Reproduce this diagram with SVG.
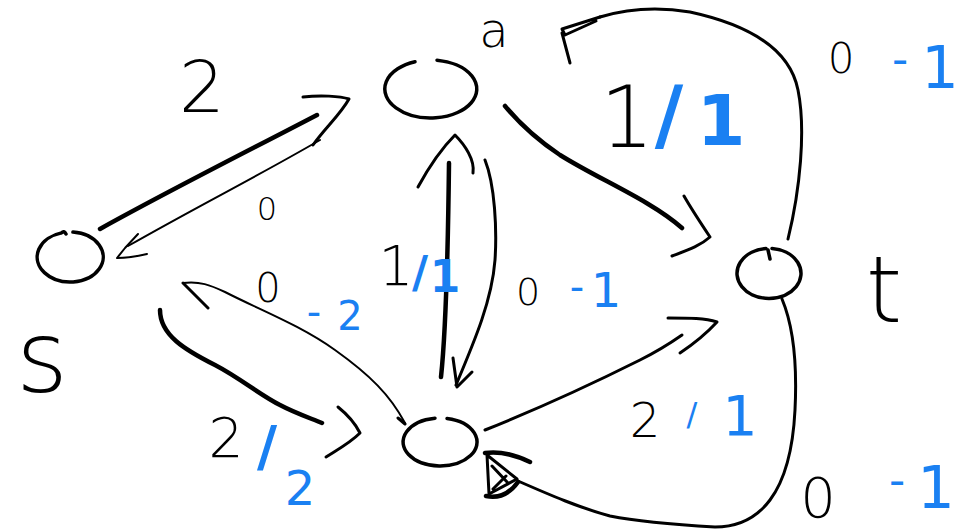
<svg xmlns="http://www.w3.org/2000/svg" width="967" height="531" viewBox="0 0 967 531">
<style>
.n{fill:none;stroke:#000;stroke-width:3.5;stroke-linecap:round;stroke-linejoin:round}
.e{fill:none;stroke:#000;stroke-width:3;stroke-linecap:round;stroke-linejoin:round}
.th{stroke-width:4.5}
.tn{stroke-width:2}
.k{fill:#000;font-family:"DejaVu Sans","Liberation Sans",sans-serif;font-weight:200;text-anchor:middle}
.b{fill:#1a80f2;font-family:"DejaVu Sans","Liberation Sans",sans-serif;font-weight:400;text-anchor:middle}
.bb{font-weight:700}
</style>
<rect width="967" height="531" fill="#fff"/>
<g id="connectors">
  <g id="e-s-a">
    <path class="e th" d="M100,229 C170,190 250,150 317,115"/>
    <path class="e" d="M303,97 C320,95 340,96 349,99 C340,115 325,128 313,145"/>
  </g>
  <g id="e-a-s">
    <path class="e tn" d="M320,140 C260,175 200,205 128,246"/>
    <path class="e tn" d="M138,234 L125,248 L117,258 Q130,258 147,254"/>
  </g>
  <g id="e-a-t">
    <path class="e th" d="M505,106 C525,130 545,145 560,155 C600,180 650,200 682,228"/>
    <path class="e" d="M684,196 C692,210 700,222 710,237 C700,246 688,250 672,256"/>
  </g>
  <g id="e-t-a">
    <path class="e" d="M788,239 C800,190 806,130 798,90 C790,50 750,25 690,12 C660,7 630,8 600,17"/>
    <path class="e" d="M600,17 L562,29 L565,35 L596,21 M562,33 L570,63"/>
  </g>
  <g id="e-b-a">
    <path class="e th" d="M441,377 C446,330 448,250 449,163"/>
    <path class="e" d="M418,187 C430,165 445,145 455,135 C465,145 475,160 473,173"/>
  </g>
  <g id="e-a-b">
    <path class="e" d="M485,160 C495,185 497,230 495,260 C492,300 475,340 456,385"/>
    <path class="e" d="M453,358 L457,387 L472,372"/>
  </g>
  <g id="e-s-b">
    <path class="e th" d="M160,310 C160,335 185,350 215,365 C240,378 260,395 280,405 C295,413 310,418 322,423"/>
    <path class="e" d="M338,407 C348,415 356,425 360,433 C350,443 337,450 326,457"/>
  </g>
  <g id="e-b-s">
    <path class="e tn" d="M405,423 C390,395 370,375 335,350 C300,325 260,310 225,292 C210,285 200,281 183,283"/>
    <path class="e" d="M183,283 L208,308 M398,418 L405,424"/>
  </g>
  <g id="e-b-t">
    <path class="e" d="M485,430 C540,408 600,380 640,360 C660,350 672,342 682,335"/>
    <path class="e" d="M668,318 C690,318 705,318 717,322 C705,335 695,343 680,353"/>
  </g>
  <g id="e-t-b">
    <path class="e" d="M782,299 C795,330 797,370 795,410 C793,450 785,480 770,500 C755,520 735,527 715,527 C680,525 640,522 610,516 C580,508 550,495 518,481"/>
    <path class="e" d="M487,455 L489,494 L517,479 Z M492,466 L508,483 M493,489 L506,476"/>
    <path class="e th" d="M485,453 Q505,450 530,462 M486,496 Q505,500 518,482"/>
  </g>
</g>
<g id="node-s">
  <path class="n" d="M61.5,232.9 A33,25 0 1 0 72.9,232.1 M61.5,232.9 Q64,230 66,234"/>
  <text class="k" x="42" y="392" font-size="100">s</text>
</g>
<g id="node-a">
  <path class="n" d="M415,61.7 A46,29 0 1 0 437,60.2"/>
  <text class="k" x="494" y="47" font-size="48">a</text>
</g>
<g id="node-t">
  <path class="n" d="M770,259 L768,250 M766,248.5 A32,25 0 1 0 772,248.5"/>
  <text class="k" x="884" y="322" font-size="93">t</text>
</g>
<g id="node-b">
  <path class="n" d="M435,418.2 A37,24 0 1 0 447,418.4"/>
</g>
<g id="labels">
  <text class="k" x="627" y="147" font-size="85">1</text>
  <text class="b bb" x="669" y="142" font-size="78">/</text>
  <text class="b bb" x="721" y="145" font-size="70">1</text>
  <text class="k" x="202" y="112" font-size="72">2</text>
  <text class="k" x="267" y="220" font-size="32">0</text>
  <text class="k" x="841" y="73" font-size="42">0</text>
  <text class="b" x="900" y="74" font-size="45">-</text>
  <text class="b" x="940" y="88" font-size="59">1</text>
  <text class="k" x="396" y="285" font-size="55">1</text>
  <text class="b bb" x="420" y="288" font-size="44">/</text>
  <text class="b bb" x="445" y="292" font-size="44">1</text>
  <text class="k" x="528" y="305" font-size="38">0</text>
  <text class="b" x="577" y="301" font-size="40">-</text>
  <text class="b" x="606" y="307" font-size="48">1</text>
  <text class="k" x="268" y="302" font-size="40">0</text>
  <text class="b" x="314" y="326" font-size="40">-</text>
  <text class="b" x="350" y="330" font-size="40">2</text>
  <text class="k" x="226" y="457" font-size="55">2</text>
  <text class="b bb" x="267" y="465" font-size="55">/</text>
  <text class="b" x="300" y="505" font-size="48">2</text>
  <text class="k" x="645" y="437" font-size="48">2</text>
  <text class="b" x="692" y="425" font-size="32">/</text>
  <text class="b" x="740" y="435" font-size="55">1</text>
  <text class="k" x="818" y="517" font-size="56">0</text>
  <text class="b" x="897" y="495" font-size="45">-</text>
  <text class="b" x="936" y="508" font-size="59">1</text>
</g>
</svg>
